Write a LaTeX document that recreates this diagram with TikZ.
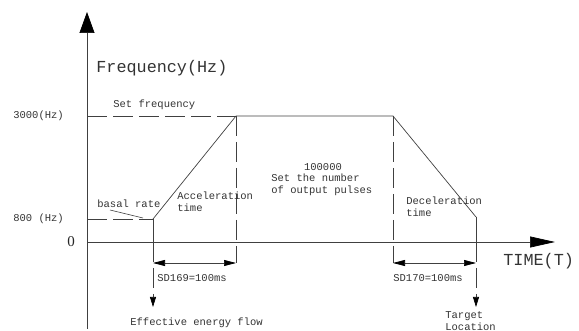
\documentclass[tikz,border=0pt]{standalone}
\usepackage{fontspec}
\newfontfamily\lbl{Liberation Mono}
\newfontfamily\zerofont{Liberation Serif}
\usetikzlibrary{arrows.meta}
\begin{document}
\begin{tikzpicture}[x=1pt,y=-1pt,line width=0.7pt,
  ln/.style={draw=black!75},
  dsh/.style={ln,dash pattern=on 20pt off 6pt},
  txt/.style={font=\lbl\fontsize{10.5}{12}\selectfont,text=black!80,inner sep=0pt,align=left},
  big/.style={font=\lbl\fontsize{16.8}{18}\selectfont,text=black!80,inner sep=0pt}]
\useasboundingbox (0,0) rectangle (579,331);
% key points
\coordinate (O) at (87,242);
\coordinate (Ytop) at (87,12);
\coordinate (Ybot) at (87,329);
\coordinate (Xend) at (555,242);
\coordinate (Y3000) at (87,116);
\coordinate (Y800) at (87,219);
\coordinate (A) at (153,219);
\coordinate (B) at (236,116);
\coordinate (C) at (393,116);
\coordinate (D) at (476,217);
\coordinate (A0) at (153,242);
\coordinate (D0) at (476,242);
\coordinate (Adown) at (153,307);
\coordinate (Ddown) at (476,307);
\coordinate (B0) at (236,263);
\coordinate (C0) at (393,263);
\coordinate (Ad) at (153,263);
\coordinate (Dd) at (476,263);
% axes
\draw[ln,-{Triangle[length=21pt,width=15pt,fill=black,color=black]}] (Ybot) -- (Ytop);
\draw[ln,-{Triangle[length=25pt,width=11pt,fill=black,color=black]}] (O) -- (Xend);
% profile
\draw[dsh] (Y3000) -- (B);
\draw[dsh] (Y800) -- (A);
\draw[ln] (A) -- (B) -- (C) -- (D);
\draw[ln] (A) -- (A0);
\draw[ln] (D) -- (D0);
\draw[dsh,-{Triangle[length=10pt,width=6pt,fill=black,color=black]}] (A0) -- (Adown);
\draw[dsh,-{Triangle[length=10pt,width=6pt,fill=black,color=black]}] (D0) -- (Ddown);
\draw[dsh] (B) -- (B0);
\draw[dsh] (C) -- (C0);
% dimension arrows
\draw[ln,{Triangle[length=12pt,width=6pt,fill=black,color=black]}-{Triangle[length=12pt,width=6pt,fill=black,color=black]}] (Ad) -- (B0);
\draw[ln,{Triangle[length=12pt,width=6pt,fill=black,color=black]}-{Triangle[length=12pt,width=6pt,fill=black,color=black]}] (C0) -- (Dd);
% labels
\node[big,anchor=west] (freq) at (96,68) {Frequency(Hz)};
\node[big,anchor=west] (time) at (503,261) {TIME(T)};
\node[txt,anchor=west] (setf) at (113,105) {Set frequency};
\node[txt,anchor=west] (l3000) at (13,116) {3000(Hz)};
\node[txt,anchor=west] (l800) at (13,219) {800 (Hz)};
\node[font=\zerofont\fontsize{15}{16}\selectfont,text=black!85,inner sep=0pt] (zero) at (71,242) {0};
\node[txt,anchor=west] (basal) at (97,204) {basal rate};
\coordinate (bl1) at (110,210);
\coordinate (bl2) at (143,218);
\draw[ln,line width=0.6pt] (bl1) -- (bl2);
\node[txt,anchor=west] (acc) at (177,202) {Acceleration\\time};
\node[txt] (pulses) at (323,167) {100000};
\node[txt,anchor=west] (setn) at (271,185) {Set the number\\of output pulses};
\node[txt,anchor=west] (dec) at (406,207) {Deceleration\\time};
\node[txt,anchor=west] (sd169) at (157,278) {SD169=100ms};
\node[txt,anchor=west] (sd170) at (393,278) {SD170=100ms};
\node[txt,anchor=west] (eff) at (130,323) {Effective energy flow};
\node[txt,anchor=west] (tgt) at (445,321) {Target\\Location};
\end{tikzpicture}
\end{document}
